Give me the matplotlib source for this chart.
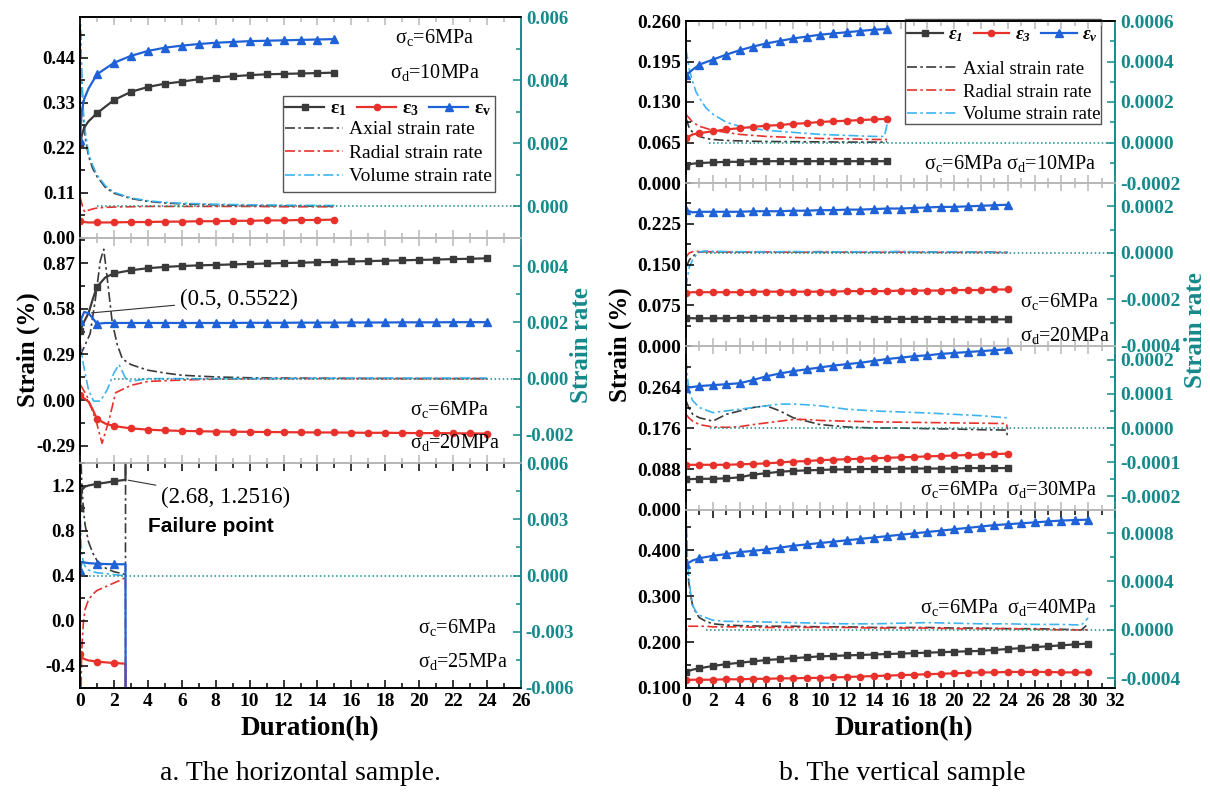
import numpy as np
import matplotlib
matplotlib.use("Agg")
import matplotlib.pyplot as plt
from matplotlib.lines import Line2D
from matplotlib.patches import Rectangle
from matplotlib.ticker import AutoMinorLocator, FixedLocator, FormatStrFormatter, MultipleLocator

plt.rcParams['font.family'] = ['Liberation Serif', 'DejaVu Serif']
plt.rcParams['mathtext.fontset'] = 'stix'
plt.rcParams['mathtext.default'] = 'regular'

TEAL = '#16898a'
C1 = '#3a3a3a'
C3 = '#e8312b'
CV = '#1f62d8'
CR = '#3db4f0'
GREY = '#b8b8b8'

# ---------------- (a) horizontal sample ----------------
# sigma_d = 10 MPa
t_a1 = [0, 0.1, 0.25, 0.5, 1, 2, 3, 4, 5, 6, 7, 8, 9, 10, 11, 12, 13, 14, 15]
e1_a1 = [0.23, 0.25, 0.27, 0.285, 0.305, 0.337, 0.357, 0.369, 0.377, 0.382, 0.388, 0.392,
         0.395, 0.398, 0.400, 0.401, 0.402, 0.403, 0.404]
e3_a1 = [0.042, 0.040, 0.039, 0.038, 0.038, 0.038, 0.039, 0.039, 0.040, 0.040, 0.041, 0.041,
         0.042, 0.042, 0.043, 0.043, 0.044, 0.044, 0.045]
ev_a1 = [0.24, 0.31, 0.34, 0.365, 0.40, 0.428, 0.445, 0.457, 0.465, 0.470, 0.474, 0.477,
         0.479, 0.481, 0.482, 0.483, 0.484, 0.485, 0.486]
tr_a1 = [0, 0.05, 0.1, 0.2, 0.3, 0.5, 0.75, 1, 1.5, 2, 3, 4, 5, 6, 8, 10, 12, 15]
axial_a1 = [0.0062, 0.005, 0.004, 0.0028, 0.0022, 0.0016, 0.0012, 0.00095, 0.0006, 0.00042,
            0.00025, 0.00016, 0.00011, 0.00008, 0.00005, 0.00003, 0.00002, 0.0]
radial_a1 = [0.0003, 0.0002, 0.0001, -0.0001, -0.00018, -0.00012, -0.00008, -0.00005, -0.00003,
             -0.00002, -0.00001, 0, 0, 0, 0, 0, -0.00001, -0.00001]
volume_a1 = [0.0062, 0.0052, 0.0042, 0.003, 0.0024, 0.0017, 0.0013, 0.001, 0.00065, 0.00045,
             0.00027, 0.00018, 0.00013, 0.0001, 0.00007, 0.00005, 0.00004, 0.00003]

# sigma_d = 20 MPa
t_a2 = [0, 0.25, 0.5, 0.75, 1, 1.5, 2] + list(range(3, 25))
e1_a2 = [0.44, 0.50, 0.5522, 0.64, 0.72, 0.78, 0.805,
         0.825, 0.838, 0.846, 0.852, 0.856, 0.859, 0.862, 0.865, 0.868, 0.871, 0.873,
         0.876, 0.878, 0.881, 0.883, 0.886, 0.888, 0.891, 0.893, 0.896, 0.898, 0.901]
e3_a2 = [0.03, 0.01, -0.01, -0.06, -0.12, -0.15, -0.165,
         -0.18, -0.188, -0.193, -0.196, -0.198, -0.2, -0.201, -0.202, -0.203, -0.204,
         -0.205, -0.206, -0.206, -0.207, -0.208, -0.208, -0.209, -0.21, -0.21, -0.211,
         -0.212, -0.213]
ev_a2 = [0.50, 0.56, 0.5522, 0.52, 0.485, 0.49, 0.49,
         0.49, 0.49, 0.49, 0.49, 0.49, 0.49, 0.49, 0.491, 0.491, 0.491, 0.492, 0.492,
         0.492, 0.493, 0.493, 0.493, 0.494, 0.494, 0.494, 0.495, 0.495, 0.495]
tax_a2 = [0, 0.3, 0.6, 0.9, 1.2, 1.4, 1.6, 1.9, 2.2, 2.5, 3, 4, 5, 6, 8, 10, 12, 16, 20, 24]
axial_a2 = [0.0008, 0.0012, 0.0016, 0.0028, 0.0042, 0.0046, 0.0036, 0.002, 0.0012, 0.0007,
            0.0005, 0.0003, 0.0002, 0.00012, 0.00006, 0.00003, 0.00002, 0.00001, 0.0, 0.0]
trd_a2 = [0, 0.4, 0.95, 1.3, 1.7, 2.1, 3, 4, 6, 8, 12, 16, 20, 24]
radial_a2 = [-0.0002, -0.0006, -0.0015, -0.0023, -0.0015, -0.0005, -0.00024, -0.0001,
             -0.00005, -0.00002, 0.0, 0.0, 0.0, 0.0]
tvo_a2 = [0, 0.2, 0.5, 0.8, 1.2, 1.6, 2.0, 2.3, 2.7, 3, 4, 6, 10, 16, 24]
volume_a2 = [0.0013, 0.0005, -0.0004, -0.0008, -0.0008, -0.0004, 0.0002, 0.0005, 0.0,
             -0.0001, 0.0, 0.0, 0.0, 0.00002, 0.00002]

# sigma_d = 25 MPa (failure at 2.68 h)
t_a3 = [0, 0.1, 0.3, 0.5, 1, 1.5, 2, 2.5, 2.68, 2.69]
e1_a3 = [1.0, 1.16, 1.19, 1.2, 1.215, 1.225, 1.238, 1.247, 1.2516, 1.6]
e3_a3 = [-0.3, -0.33, -0.345, -0.355, -0.365, -0.372, -0.378, -0.382, -0.385, -0.8]
ev_a3 = [0.45, 0.52, 0.515, 0.51, 0.505, 0.502, 0.50, 0.50, 0.50, -0.8]
tr_a3 = [0, 0.05, 0.1, 0.2, 0.3, 0.5, 0.75, 1, 1.5, 2, 2.5, 2.68, 2.69]
axial_a3 = [0.009, 0.0065, 0.005, 0.0035, 0.0027, 0.0018, 0.0012, 0.0008, 0.0004, 0.0002,
            0.0001, 0.00005, 0.009]
radial_a3 = [-0.009, -0.007, -0.004, -0.0025, -0.0018, -0.0013, -0.001, -0.0008, -0.0006,
             -0.0004, -0.0002, -0.0001, -0.009]
volume_a3 = [0.004, 0.002, 0.0012, 0.0007, 0.0005, 0.0003, 0.0002, 0.00015, 0.0001,
             0.00005, 0.0, 0.0, 0.0]

# ---------------- (b) vertical sample ----------------
t_b1 = [0, 0.5] + list(range(1, 16))
e1_b1 = [0.028, 0.031, 0.032, 0.033, 0.034, 0.034, 0.035, 0.035, 0.035, 0.035, 0.035, 0.035,
         0.035, 0.035, 0.035, 0.035, 0.035]
e3_b1 = [0.072, 0.078, 0.080, 0.083, 0.086, 0.088, 0.090, 0.092, 0.093, 0.095, 0.096, 0.098,
         0.099, 0.100, 0.101, 0.102, 0.103]
ev_b1 = [0.173, 0.182, 0.190, 0.198, 0.206, 0.213, 0.219, 0.224, 0.228, 0.232, 0.235, 0.238,
         0.240, 0.242, 0.244, 0.246, 0.247]
tr_b1 = [0, 0.1, 0.25, 0.5, 0.75, 1, 1.5, 2, 3, 4, 5, 6, 8, 10, 12, 14, 14.8, 15]
axial_b1 = [0.00012, 0.0001, 0.00007, 0.00005, 0.00004, 0.00003, 0.00002, 0.000015, 0.00001,
            0.000008, 0.000006, 0.000005, 0.000004, 0.000003, 0.000002, 0.000002, 0.000002,
            0.000005]
radial_b1 = [0.00014, 0.00013, 0.00012, 0.0001, 0.00009, 0.00008, 0.00007, 0.00006, 0.00005,
             0.00004, 0.000035, 0.00003, 0.000025, 0.00002, 0.000018, 0.000015, 0.000015,
             0.000015]
volume_b1 = [0.00046, 0.00042, 0.00036, 0.0003, 0.00025, 0.00022, 0.00017, 0.00014, 0.0001,
             0.00008, 0.00007, 0.00006, 0.00005, 0.00004, 0.000035, 0.00003, 0.00003, 0.00009]

t_b2 = [0, 0.5] + list(range(1, 25))
e1_b2 = [0.052, 0.051, 0.051, 0.051, 0.051, 0.052, 0.052, 0.052, 0.052, 0.051, 0.051, 0.051,
         0.051, 0.051, 0.051, 0.050, 0.050, 0.050, 0.050, 0.050, 0.050, 0.049, 0.049, 0.049,
         0.049, 0.049]
e3_b2 = [0.098, 0.099, 0.099, 0.099, 0.099, 0.099, 0.100, 0.100, 0.100, 0.100, 0.100, 0.100,
         0.100, 0.101, 0.101, 0.101, 0.101, 0.102, 0.102, 0.102, 0.102, 0.103, 0.103, 0.103,
         0.104, 0.104]
ev_b2 = [0.250, 0.246, 0.247, 0.247, 0.247, 0.247, 0.248, 0.248, 0.248, 0.249, 0.249, 0.250,
         0.250, 0.251, 0.251, 0.252, 0.253, 0.253, 0.254, 0.255, 0.256, 0.256, 0.257, 0.258,
         0.259, 0.260]
tr_b2 = [0, 0.1, 0.25, 0.5, 0.75, 1, 1.5, 2, 4, 6, 8, 10, 12, 14, 16, 18, 20, 22, 24]
axial_b2 = [-0.00006, -0.00005, -0.00003, -0.000015, -0.000005, 0.000003, 0.000006, 0.000005,
            0.000004, 0.000005, 0.000003, 0.000005, 0.000004, 0.000003, 0.000005, 0.000004,
            0.000003, 0.000004, 0.000002]
radial_b2 = [-0.00002, -0.00001, 0.0, 0.000005, 0.000006, 0.000006, 0.000005, 0.000004,
             0.000003, 0.000004, 0.000003, 0.000002, 0.000003, 0.000002, 0.000003, 0.000002,
             0.000002, 0.000002, 0.000001]
volume_b2 = [-0.00015, -0.00011, -0.00006, -0.00003, -0.00001, 0.000005, 0.000008, 0.000006,
             0.000005, 0.000004, 0.000006, 0.000003, 0.000005, 0.000004, 0.000006, 0.000003,
             0.000005, 0.000003, 0.000002]

t_b3 = list(range(0, 25))
e1_b3 = [0.066, 0.067, 0.067, 0.068, 0.070, 0.076, 0.079, 0.082, 0.084, 0.085, 0.086, 0.087,
         0.087, 0.088, 0.088, 0.088, 0.089, 0.089, 0.089, 0.089, 0.089, 0.090, 0.090, 0.090,
         0.090]
e3_b3 = [0.097, 0.097, 0.097, 0.097, 0.098, 0.099, 0.100, 0.102, 0.104, 0.105, 0.107, 0.108,
         0.109, 0.110, 0.111, 0.112, 0.113, 0.114, 0.115, 0.116, 0.117, 0.118, 0.119, 0.120,
         0.121]
ev_b3 = [0.262, 0.266, 0.268, 0.270, 0.272, 0.279, 0.287, 0.293, 0.298, 0.302, 0.306, 0.310,
         0.313, 0.316, 0.320, 0.324, 0.327, 0.330, 0.332, 0.335, 0.337, 0.339, 0.341, 0.343,
         0.345]
tr_b3 = [0, 0.2, 0.5, 1, 2, 3, 4, 5, 6, 7, 8, 9, 10, 12, 14, 16, 18, 20, 22, 23.9, 24]
axial_b3 = [0.00008, 0.00006, 0.00004, 0.00003, 0.00002, 0.00004, 0.00005, 0.00006, 0.000065,
            0.00005, 0.00003, 0.00002, 0.00001, 0.000003, 0.0, 0.0, -0.000002, -0.000003,
            -0.000005, -0.000006, -0.00003]
radial_b3 = [0.00004, 0.00003, 0.00002, 0.00001, 0.000003, 0.000002, 0.000004, 0.00001,
             0.000015, 0.00002, 0.000025, 0.000025, 0.000022, 0.00002, 0.000018, 0.000017,
             0.000016, 0.000015, 0.000014, 0.000013, -0.000005]
volume_b3 = [0.0002, 0.00011, 0.00008, 0.00006, 0.000045, 0.00005, 0.000055, 0.00006,
             0.000065, 0.00007, 0.00007, 0.000068, 0.000065, 0.000055, 0.00005, 0.000047,
             0.000044, 0.00004, 0.000036, 0.00003, 0.00003]

t_b4 = [0, 0.5] + list(range(1, 31))
e1_b4 = [0.135, 0.140, 0.143, 0.148, 0.152, 0.155, 0.158, 0.161, 0.163, 0.165, 0.167, 0.169,
         0.170, 0.171, 0.172, 0.173, 0.174, 0.175, 0.176, 0.177, 0.178, 0.179, 0.180, 0.181,
         0.183, 0.185, 0.187, 0.189, 0.191, 0.193, 0.195, 0.197]
e3_b4 = [0.117, 0.118, 0.118, 0.118, 0.119, 0.119, 0.120, 0.120, 0.121, 0.121, 0.122, 0.122,
         0.123, 0.124, 0.125, 0.126, 0.127, 0.128, 0.129, 0.130, 0.131, 0.132, 0.133, 0.134,
         0.134, 0.135, 0.135, 0.135, 0.135, 0.134, 0.134, 0.134]
ev_b4 = [0.370, 0.378, 0.383, 0.388, 0.392, 0.396, 0.399, 0.402, 0.406, 0.410, 0.413, 0.416,
         0.419, 0.422, 0.425, 0.428, 0.431, 0.434, 0.437, 0.440, 0.443, 0.446, 0.449, 0.452,
         0.455, 0.457, 0.459, 0.461, 0.463, 0.465, 0.466, 0.467]
tr_b4 = [0, 0.05, 0.1, 0.2, 0.35, 0.5, 0.75, 1, 1.5, 2, 3, 4, 6, 8, 10, 12, 14, 16, 18, 20,
         22, 24, 26, 28, 29.5, 30]
axial_b4 = [0.0009, 0.0007, 0.00055, 0.0004, 0.00028, 0.0002, 0.00014, 0.0001, 0.00007,
            0.00005, 0.00004, 0.000035, 0.00003, 0.00003, 0.000025, 0.000025, 0.00002,
            0.00002, 0.00002, 0.000015, 0.000015, 0.00001, 0.00001, 0.000005, 0.0, 0.00005]
radial_b4 = [-0.00012, 0.00002, 0.00003, 0.00003, 0.00003, 0.00003, 0.00003, 0.00003, 0.00003,
             0.000025, 0.000025, 0.000025, 0.00002, 0.00002, 0.00002, 0.00002, 0.000015,
             0.000015, 0.000015, 0.00001, 0.00001, 0.00001, 0.000005, 0.0, 0.0, 0.0]
volume_b4 = [0.001, 0.0008, 0.0006, 0.00045, 0.0003, 0.0002, 0.00015, 0.00012, 0.0001,
             0.00008, 0.00007, 0.00007, 0.000065, 0.00006, 0.000055, 0.00005, 0.00005,
             0.000055, 0.00006, 0.000055, 0.00005, 0.00005, 0.000045, 0.000045, 0.00004, 0.0001]

W, H = 1210, 796
fig = plt.figure(figsize=(W / 100, H / 100), dpi=100)
fig.patch.set_facecolor('white')
DASHDOT = (0, (6, 2, 1.5, 2))


def rect(x0, x1, ytop, ybot):
    return [x0 / W, 1 - ybot / H, (x1 - x0) / W, (ybot - ytop) / H]


def integer_marks(t):
    return [i for i, v in enumerate(t) if float(v).is_integer()]


def panel(r, xmax, ylim, y2lim, yt, y2t, yfmt, y2fmt, strains, rates, zero_from,
          first, last, ts=14):
    ax = fig.add_axes(r)
    ax2 = ax.twinx()
    ax.set_zorder(2)
    ax.patch.set_visible(False)
    ax2.set_zorder(1)
    # rates on right axis
    for t, v, c in rates:
        ax2.plot(t, v, color=c, ls=DASHDOT, lw=1.2)
    ax2.hlines(0, zero_from, xmax, colors=TEAL, linestyles=':', lw=1.1)
    # strains on left axis
    for t, v, c, m, ms in strains:
        ax.plot(t, v, color=c, lw=1.6, marker=m, ms=ms, markevery=integer_marks(t))
    ax.set_xlim(0, xmax)
    ax.set_ylim(*ylim)
    ax2.set_ylim(*y2lim)
    ax.yaxis.set_major_locator(FixedLocator(yt))
    ax.yaxis.set_minor_locator(AutoMinorLocator(2))
    ax.yaxis.set_major_formatter(FormatStrFormatter(yfmt))
    ax2.yaxis.set_major_locator(FixedLocator(y2t))
    ax2.yaxis.set_minor_locator(AutoMinorLocator(2))
    ax2.yaxis.set_major_formatter(FormatStrFormatter(y2fmt))
    ax.xaxis.set_major_locator(MultipleLocator(2))
    ax.xaxis.set_minor_locator(MultipleLocator(1))
    ax.tick_params(axis='y', which='both', direction='in', labelsize=ts, width=1.1)
    ax.tick_params(axis='y', which='major', length=6)
    ax.tick_params(axis='y', which='minor', length=3.5)
    ax2.tick_params(axis='y', which='both', direction='in', colors=TEAL, labelsize=ts,
                    width=1.1)
    ax2.tick_params(axis='y', which='major', length=6)
    ax2.tick_params(axis='y', which='minor', length=3.5)
    xc = 'black' if last else GREY
    ax.tick_params(axis='x', which='both', direction='in', top=True, bottom=True,
                   labelbottom=last, labelsize=14, width=1.1, color=GREY)
    ax.tick_params(axis='x', which='major', length=6)
    ax.tick_params(axis='x', which='minor', length=3.5)
    if last:
        ax.tick_params(axis='x', which='both', bottom=True, color='black')
    for lab in ax.get_yticklabels() + ax.get_xticklabels() + ax2.get_yticklabels():
        lab.set_fontweight('bold')
    for a in (ax, ax2):
        a.spines['top'].set_color('black' if first else GREY)
        a.spines['bottom'].set_color(xc)
        a.spines['left'].set_color('black')
        a.spines['right'].set_color(TEAL)
        for s in a.spines.values():
            s.set_linewidth(1.2)
    return ax, ax2


def strain_set(t, e1, e3, ev):
    return [(t, e1, C1, 's', 4.5), (t, e3, C3, 'o', 4.5), (t, ev, CV, '^', 5.5)]


def sigma(ax, x, y, s, **kw):
    ax.text(x, y, s, transform=ax.transAxes, fontsize=14.5, va='center', ha='left', **kw)


def add_legend(ax2, x0, x1, ytop, ybot, row1, row2, style, hl1, hl2, fs):
    hs = [Line2D([], [], color=C1, marker='s', ms=4.5, lw=1.6),
          Line2D([], [], color=C3, marker='o', ms=4.5, lw=1.6),
          Line2D([], [], color=CV, marker='^', ms=5.5, lw=1.6)]
    hr = [Line2D([], [], color=C1, ls=DASHDOT, lw=1.2),
          Line2D([], [], color=C3, ls=DASHDOT, lw=1.2),
          Line2D([], [], color=CR, ls=DASHDOT, lw=1.2)]
    l1 = ax2.legend(hs, ['ε$_1$', 'ε$_3$', 'ε$_v$'], ncol=3, loc='upper left',
                    bbox_to_anchor=(x0 + 0.005, row1), frameon=False, borderaxespad=0,
                    handlelength=hl1, handletextpad=0.3, columnspacing=0.55, borderpad=0,
                    prop=dict(size=fs, weight='bold', style=style))
    ax2.add_artist(l1)
    ax2.legend(hr, ['Axial strain rate', 'Radial strain rate', 'Volume strain rate'],
               loc='upper left', bbox_to_anchor=(x0 + 0.005, row2),
               frameon=False, borderaxespad=0, borderpad=0, handlelength=hl2,
               handletextpad=0.3, labelspacing=0.3, prop=dict(size=fs))
    ax2.add_patch(Rectangle((x0, ybot), x1 - x0, ytop - ybot, transform=ax2.transAxes,
                            fill=False, edgecolor='#555555', lw=1.0, clip_on=False, zorder=5))


# ---------- left column ----------
axa1, axa1r = panel(rect(80, 521, 17, 238), 26, (0, 0.54), (-0.001, 0.006),
                    [0, 0.11, 0.22, 0.33, 0.44], [0, 0.002, 0.004, 0.006], '%.2f', '%.3f',
                    strain_set(t_a1, e1_a1, e3_a1, ev_a1),
                    [(tr_a1, axial_a1, C1), (tr_a1, radial_a1, C3), (tr_a1, volume_a1, CR)],
                    1.0, True, False, ts=13.5)
sigma(axa1, 0.714, 0.905, 'σ$_c$=6MPa')
sigma(axa1, 0.703, 0.75, 'σ$_d$=10MPa')
add_legend(axa1r, 0.46, 0.941, 0.643, 0.208, 0.625, 0.53, 'normal', 2.0, 3.0, 14)

axa2, axa2r = panel(rect(80, 521, 238, 463), 26, (-0.40, 1.03), (-0.003, 0.005),
                    [-0.29, 0, 0.29, 0.58, 0.87], [-0.002, 0, 0.002, 0.004], '%.2f', '%.3f',
                    strain_set(t_a2, e1_a2, e3_a2, ev_a2),
                    [(tax_a2, axial_a2, C1), (trd_a2, radial_a2, C3), (tvo_a2, volume_a2, CR)],
                    2.0, False, False, ts=13.5)
sigma(axa2, 0.748, 0.236, 'σ$_c$=6MPa')
sigma(axa2, 0.748, 0.089, 'σ$_d$=20MPa')
axa2.annotate('(0.5, 0.5522)', xy=(0.5, 0.5522), xytext=(5.9, 0.64), fontsize=16.5,
              va='center', ha='left', arrowprops=dict(arrowstyle='-', color='#333333', lw=0.8))

axa3, axa3r = panel(rect(80, 521, 463, 688), 26, (-0.6, 1.4), (-0.006, 0.006),
                    [-0.4, 0, 0.4, 0.8, 1.2], [-0.006, -0.003, 0, 0.003, 0.006], '%.1f', '%.3f',
                    strain_set(t_a3, e1_a3, e3_a3, ev_a3),
                    [(tr_a3, axial_a3, C1), (tr_a3, radial_a3, C3), (tr_a3, volume_a3, CR)],
                    0.3, False, True, ts=13.5)
sigma(axa3, 0.766, 0.267, 'σ$_c$=6MPa')
sigma(axa3, 0.766, 0.116, 'σ$_d$=25MPa')
axa3.annotate('(2.68, 1.2516)', xy=(2.68, 1.2516), xytext=(4.8, 1.09), fontsize=16.5,
              va='center', ha='left', arrowprops=dict(arrowstyle='-', color='#333333', lw=0.8))
axa3.text(4.0, 0.84, 'Failure point', fontsize=15, fontweight='bold', va='center',
          family=['Liberation Sans', 'DejaVu Sans'])

# ---------- right column ----------
axb1, axb1r = panel(rect(686, 1115, 21, 183), 32, (0, 0.26), (-0.0002, 0.0006),
                    [0, 0.065, 0.13, 0.195, 0.26], [-0.0002, 0, 0.0002, 0.0004, 0.0006],
                    '%.3f', '%.4f', strain_set(t_b1, e1_b1, e3_b1, ev_b1),
                    [(tr_b1, axial_b1, C1), (tr_b1, radial_b1, C3), (tr_b1, volume_b1, CR)],
                    1.7, True, False)
sigma(axb1, 0.555, 0.123, 'σ$_c$=6MPa σ$_d$=10MPa')
add_legend(axb1r, 0.51, 0.967, 1.01, 0.362, 0.965, 0.755, 'italic', 1.9, 2.7, 13.5)

axb2, axb2r = panel(rect(686, 1115, 183, 346), 32, (0, 0.3), (-0.0004, 0.0003),
                    [0, 0.075, 0.15, 0.225], [-0.0004, -0.0002, 0, 0.0002],
                    '%.3f', '%.4f', strain_set(t_b2, e1_b2, e3_b2, ev_b2),
                    [(tr_b2, axial_b2, C1), (tr_b2, radial_b2, C3), (tr_b2, volume_b2, CR)],
                    1.5, False, False)
sigma(axb2, 0.779, 0.27, 'σ$_c$=6MPa')
sigma(axb2, 0.779, 0.067, 'σ$_d$=20MPa')

axb3, axb3r = panel(rect(686, 1115, 346, 510), 32, (0, 0.352), (-0.00024, 0.00024),
                    [0, 0.088, 0.176, 0.264], [-0.0002, -0.0001, 0, 0.0001, 0.0002],
                    '%.3f', '%.4f', strain_set(t_b3, e1_b3, e3_b3, ev_b3),
                    [(tr_b3, axial_b3, C1), (tr_b3, radial_b3, C3), (tr_b3, volume_b3, CR)],
                    1.8, False, False)
sigma(axb3, 0.545, 0.122, 'σ$_c$=6MPa  σ$_d$=30MPa')

axb4, axb4r = panel(rect(686, 1115, 510, 688), 32, (0.1, 0.488), (-0.00048, 0.00099),
                    [0.1, 0.2, 0.3, 0.4], [-0.0004, 0, 0.0004, 0.0008],
                    '%.3f', '%.4f', strain_set(t_b4, e1_b4, e3_b4, ev_b4),
                    [(tr_b4, axial_b4, C1), (tr_b4, radial_b4, C3), (tr_b4, volume_b4, CR)],
                    1.5, False, True)
sigma(axb4, 0.545, 0.455, 'σ$_c$=6MPa  σ$_d$=40MPa')

# ---------- axis titles and captions ----------
lab = dict(fontsize=18, fontweight='bold', ha='center', va='center')
fig.text(28 / W, 1 - 350 / H, 'Strain (%)', rotation=90, **lab)
fig.text(581 / W, 1 - 345 / H, 'Strain rate', rotation=90, color=TEAL, **lab)
fig.text(620 / W, 1 - 345 / H, 'Strain (%)', rotation=90, **lab)
fig.text(1196 / W, 1 - 330 / H, 'Strain rate', rotation=90, color=TEAL, **lab)
xl = dict(fontsize=19.5, fontweight='bold', ha='center', va='center')
fig.text(310 / W, 1 - 729 / H, 'Duration(h)', **xl)
fig.text(904 / W, 1 - 729 / H, 'Duration(h)', **xl)
fig.text(300 / W, 1 - 773 / H, 'a. The horizontal sample.', fontsize=20, ha='center', va='center')
fig.text(902 / W, 1 - 773 / H, 'b. The vertical sample', fontsize=20, ha='center', va='center')

fig.savefig('out.png', dpi=100, facecolor='white')
